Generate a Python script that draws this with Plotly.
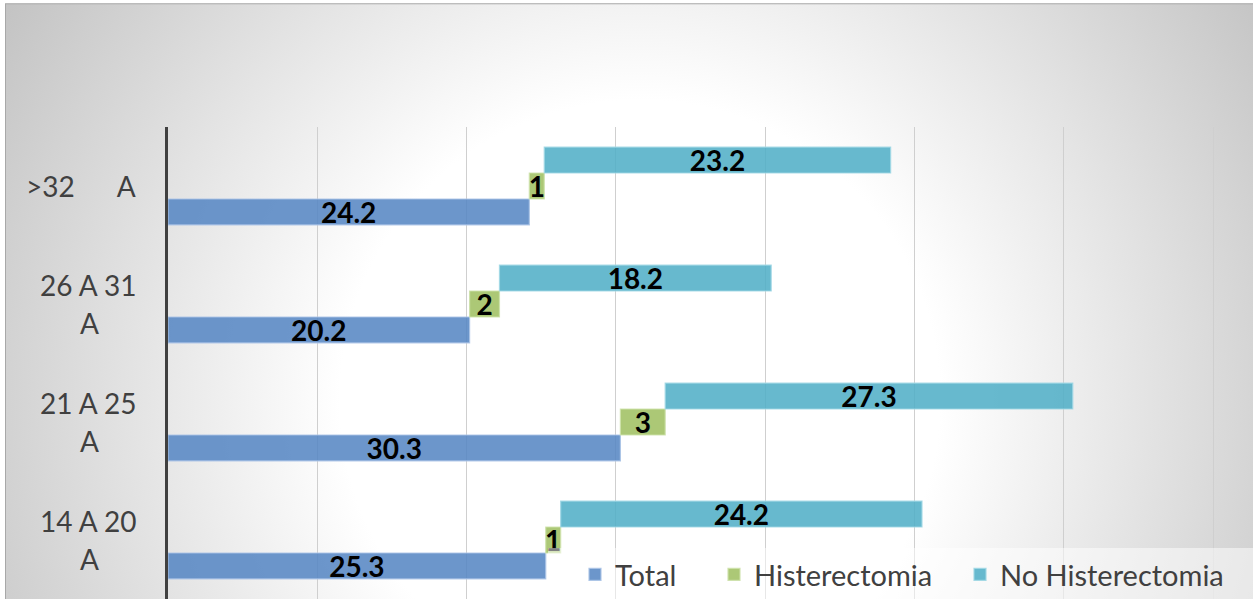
import base64
import plotly.graph_objects as go

# ---- data ----
categories = ["14 A 20 A", "21 A 25 A", "26 A 31 A", ">32 A"]
label_line1 = ["14 A 20", "21 A 25", "26 A 31", ">32\u00a0\u00a0\u00a0\u00a0\u00a0\u00a0A"]
label_line2 = ["A", "A", "A", ""]
total = [25.3, 30.3, 20.2, 24.2]
histerectomia = [1, 3, 2, 1]
no_histerectomia = [24.2, 27.3, 18.2, 23.2]
series_names = ["Total", "Histerectomia", "No Histerectomia"]

# ---- layout constants ----
W, H = 1253, 600
ML, MR, MT, MB = 168, 0, 127, 0
PW, PH = W - ML - MR, H - MT - MB
XMAX = 72.67

def px_to_paper_x(px):
    return (px - ML) / PW

def px_to_paper_y(py):
    return (H - MB - py) / PH

label_font = dict(family="Lato", size=28, color="black", weight="bold")
legend_font = dict(family="Lato", size=29, color="#404040")
cat_font = dict(family="Lato", size=28, color="#404040")

hist_base = total
nohist_base = [t + h for t, h in zip(total, histerectomia)]

fig = go.Figure()
fig.add_trace(go.Bar(
    name=series_names[0], y=categories, x=total, orientation="h", legend="legend",
    marker=dict(color="rgba(88,136,196,0.88)", line=dict(color="rgba(170,195,230,0.9)", width=1.2)),
    text=[f"{v:g}" for v in total], textposition="inside", insidetextanchor="middle",
    textangle=0, constraintext="none", textfont=label_font,
))
fig.add_trace(go.Bar(
    name=series_names[1], y=categories, x=histerectomia, base=hist_base, orientation="h", legend="legend2",
    marker=dict(color="rgba(160,192,99,0.88)", line=dict(color="rgba(205,225,170,0.9)", width=1.2)),
    text=[f"{v:g}" for v in histerectomia], textposition="inside", insidetextanchor="middle",
    textangle=0, constraintext="none", textfont=label_font,
))
fig.add_trace(go.Bar(
    name=series_names[2], y=categories, x=no_histerectomia, base=nohist_base, orientation="h", legend="legend3",
    marker=dict(color="rgba(82,175,199,0.88)", line=dict(color="rgba(160,215,228,0.9)", width=1.2)),
    text=[f"{v:g}" for v in no_histerectomia], textposition="inside", insidetextanchor="middle",
    textangle=0, constraintext="none", textfont=label_font,
))

# radial gradient background with thin border
svg = f"""<svg xmlns='http://www.w3.org/2000/svg' width='{W}' height='{H}' viewBox='0 0 {W} {H}'>
<defs><radialGradient id='g' gradientUnits='userSpaceOnUse' cx='640' cy='400' r='750'>
<stop offset='0.4' stop-color='#ffffff'/><stop offset='1' stop-color='#c3c3c3'/></radialGradient></defs>
<rect x='0' y='0' width='{W}' height='{H}' fill='#ffffff'/>
<rect x='5.5' y='3.5' width='{W + 20}' height='{H + 20}' fill='url(#g)' stroke='#a8a8a8' stroke-width='1'/>
</svg>"""
src = "data:image/svg+xml;base64," + base64.b64encode(svg.encode()).decode()

annotations = []
for cat, l1, l2 in zip(categories, label_line1, label_line2):
    if l2:
        annotations.append(dict(text=l1, xref="paper", yref="y", x=px_to_paper_x(138), y=cat,
                                xanchor="right", yanchor="middle", yshift=19, showarrow=False,
                                font=cat_font))
        annotations.append(dict(text=l2, xref="paper", yref="y", x=px_to_paper_x(89), y=cat,
                                xanchor="center", yanchor="middle", yshift=-19, showarrow=False,
                                font=cat_font))
    else:
        annotations.append(dict(text=l1, xref="paper", yref="y", x=px_to_paper_x(138), y=cat,
                                xanchor="right", yanchor="middle", showarrow=False,
                                font=cat_font))

def legend_at(px):
    return dict(orientation="h", x=px_to_paper_x(px), xanchor="left",
                y=px_to_paper_y(575), yanchor="middle", bgcolor="rgba(0,0,0,0)",
                font=legend_font)

fig.update_layout(
    width=W, height=H, autosize=False,
    margin=dict(l=ML, r=MR, t=MT, b=MB, pad=0),
    paper_bgcolor="white", plot_bgcolor="rgba(0,0,0,0)",
    barmode="group", bargap=0.34, bargroupgap=0,
    images=[dict(source=src, xref="paper", yref="paper", x=px_to_paper_x(0), y=px_to_paper_y(0),
                 sizex=W / PW, sizey=H / PH, xanchor="left", yanchor="top",
                 sizing="stretch", layer="below")],
    shapes=[dict(type="rect", xref="paper", yref="paper", x0=px_to_paper_x(548), x1=1.01,
                 y0=-0.01, y1=px_to_paper_y(549), fillcolor="rgba(255,255,255,0.5)",
                 line=dict(width=0), layer="above")],
    annotations=annotations,
    showlegend=True,
    legend=legend_at(575),
    legend2=legend_at(714),
    legend3=legend_at(960),
    xaxis=dict(range=[0, XMAX], dtick=10, showgrid=True, gridcolor="#cfcfcf", gridwidth=1,
               showticklabels=False, zeroline=False, ticks="", showline=False, fixedrange=True),
    yaxis=dict(showticklabels=False, showgrid=False, showline=True, linecolor="#404040",
               linewidth=3, ticks="", zeroline=False, fixedrange=True),
)

fig.write_html("out.html")
